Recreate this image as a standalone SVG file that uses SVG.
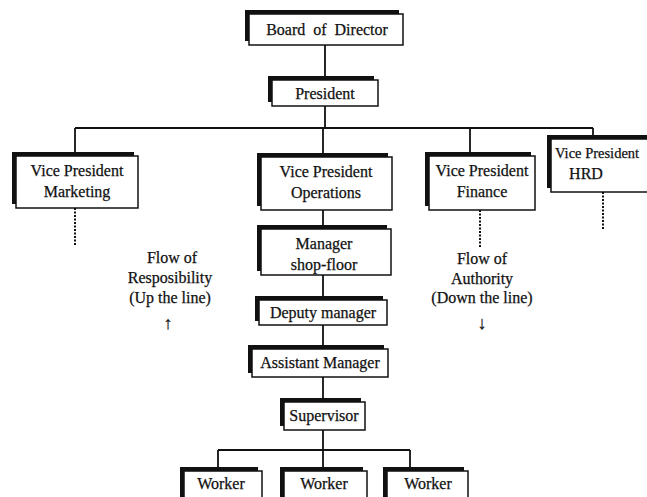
<svg xmlns="http://www.w3.org/2000/svg" width="647" height="497" viewBox="0 0 647 497">
<style>
.sh{fill:#111}
.bx{fill:#fff;stroke:#111;stroke-width:1.5}
.t{font-family:"Liberation Serif","Times New Roman",serif;font-size:16px;fill:#111;stroke:#111;stroke-width:0.25;text-anchor:middle}
.c{stroke:#111;stroke-width:1.8;fill:none}
.d{stroke:#111;stroke-width:2;stroke-dasharray:2 1.5;fill:none}
</style>
<rect width="647" height="497" fill="#fff"/>
<g id="connectors">
<path class="c" d="M325 45V76M325 106V128M75 128H593M75 128V152M323 128V153M470 128V152M593 128V135"/>
<path class="c" d="M323 210V225M323 275V296M323 325V345M323 377V398M323 430V450M218 450H410M218 450V467M323 450V467M410 450V467"/>
<path class="d" d="M75 208V245M480 210V247M603 192V230"/>
</g>
<g id="board"><rect class="sh" x="245" y="10" width="154" height="31"/><rect class="bx" x="249" y="14" width="154" height="31"/><text class="t" x="327" y="35" word-spacing="4">Board of Director</text></g>
<g id="president"><rect class="sh" x="268" y="76" width="106" height="26"/><rect class="bx" x="272" y="80" width="106" height="26"/><text class="t" x="325" y="99">President</text></g>
<g id="vp-marketing"><rect class="sh" x="12" y="152" width="122" height="52"/><rect class="bx" x="16" y="156" width="122" height="52"/><text class="t" x="77" y="176">Vice President</text><text class="t" x="77" y="197">Marketing</text></g>
<g id="vp-operations"><rect class="sh" x="257" y="153" width="131" height="53"/><rect class="bx" x="261" y="157" width="131" height="53"/><text class="t" x="326" y="177">Vice President</text><text class="t" x="326" y="198">Operations</text></g>
<g id="vp-finance"><rect class="sh" x="425" y="152" width="106" height="54"/><rect class="bx" x="429" y="156" width="106" height="54"/><text class="t" x="482" y="176">Vice President</text><text class="t" x="482" y="197">Finance</text></g>
<g id="vp-hrd"><rect class="sh" x="547" y="135" width="104" height="53"/><rect class="bx" x="551" y="139" width="104" height="53"/><text class="t" x="555" y="158" style="text-anchor:start;font-size:14.5px">Vice President</text><text class="t" x="586" y="179">HRD</text></g>
<g id="manager"><rect class="sh" x="257" y="225" width="130" height="46"/><rect class="bx" x="261" y="229" width="130" height="46"/><text class="t" x="324" y="249">Manager</text><text class="t" x="324" y="270">shop-floor</text></g>
<g id="deputy"><rect class="sh" x="255" y="296" width="128" height="25"/><rect class="bx" x="259" y="300" width="128" height="25"/><text class="t" x="323" y="318">Deputy manager</text></g>
<g id="assistant"><rect class="sh" x="248" y="345" width="136" height="28"/><rect class="bx" x="252" y="349" width="136" height="28"/><text class="t" x="320" y="368">Assistant Manager</text></g>
<g id="supervisor"><rect class="sh" x="280" y="398" width="81" height="28"/><rect class="bx" x="284" y="402" width="81" height="28"/><text class="t" x="324" y="421">Supervisor</text></g>
<g id="worker1"><rect class="sh" x="180" y="467" width="78" height="40"/><rect class="bx" x="184" y="471" width="78" height="40"/><text class="t" x="221" y="489">Worker</text></g>
<g id="worker2"><rect class="sh" x="280" y="467" width="83" height="40"/><rect class="bx" x="284" y="471" width="83" height="40"/><text class="t" x="324" y="489">Worker</text></g>
<g id="worker3"><rect class="sh" x="383" y="467" width="81" height="40"/><rect class="bx" x="387" y="471" width="81" height="40"/><text class="t" x="428" y="489">Worker</text></g>
<g id="flow-responsibility"><text class="t" x="172" y="263">Flow of</text><text class="t" x="170" y="283">Resposibility</text><text class="t" x="170" y="303">(Up the line)</text><text class="t" x="168" y="329" style="font-size:18px">↑</text></g>
<g id="flow-authority"><text class="t" x="482" y="264">Flow of</text><text class="t" x="482" y="284">Authority</text><text class="t" x="482" y="303">(Down the line)</text><text class="t" x="482" y="329" style="font-size:18px">↓</text></g>
</svg>
